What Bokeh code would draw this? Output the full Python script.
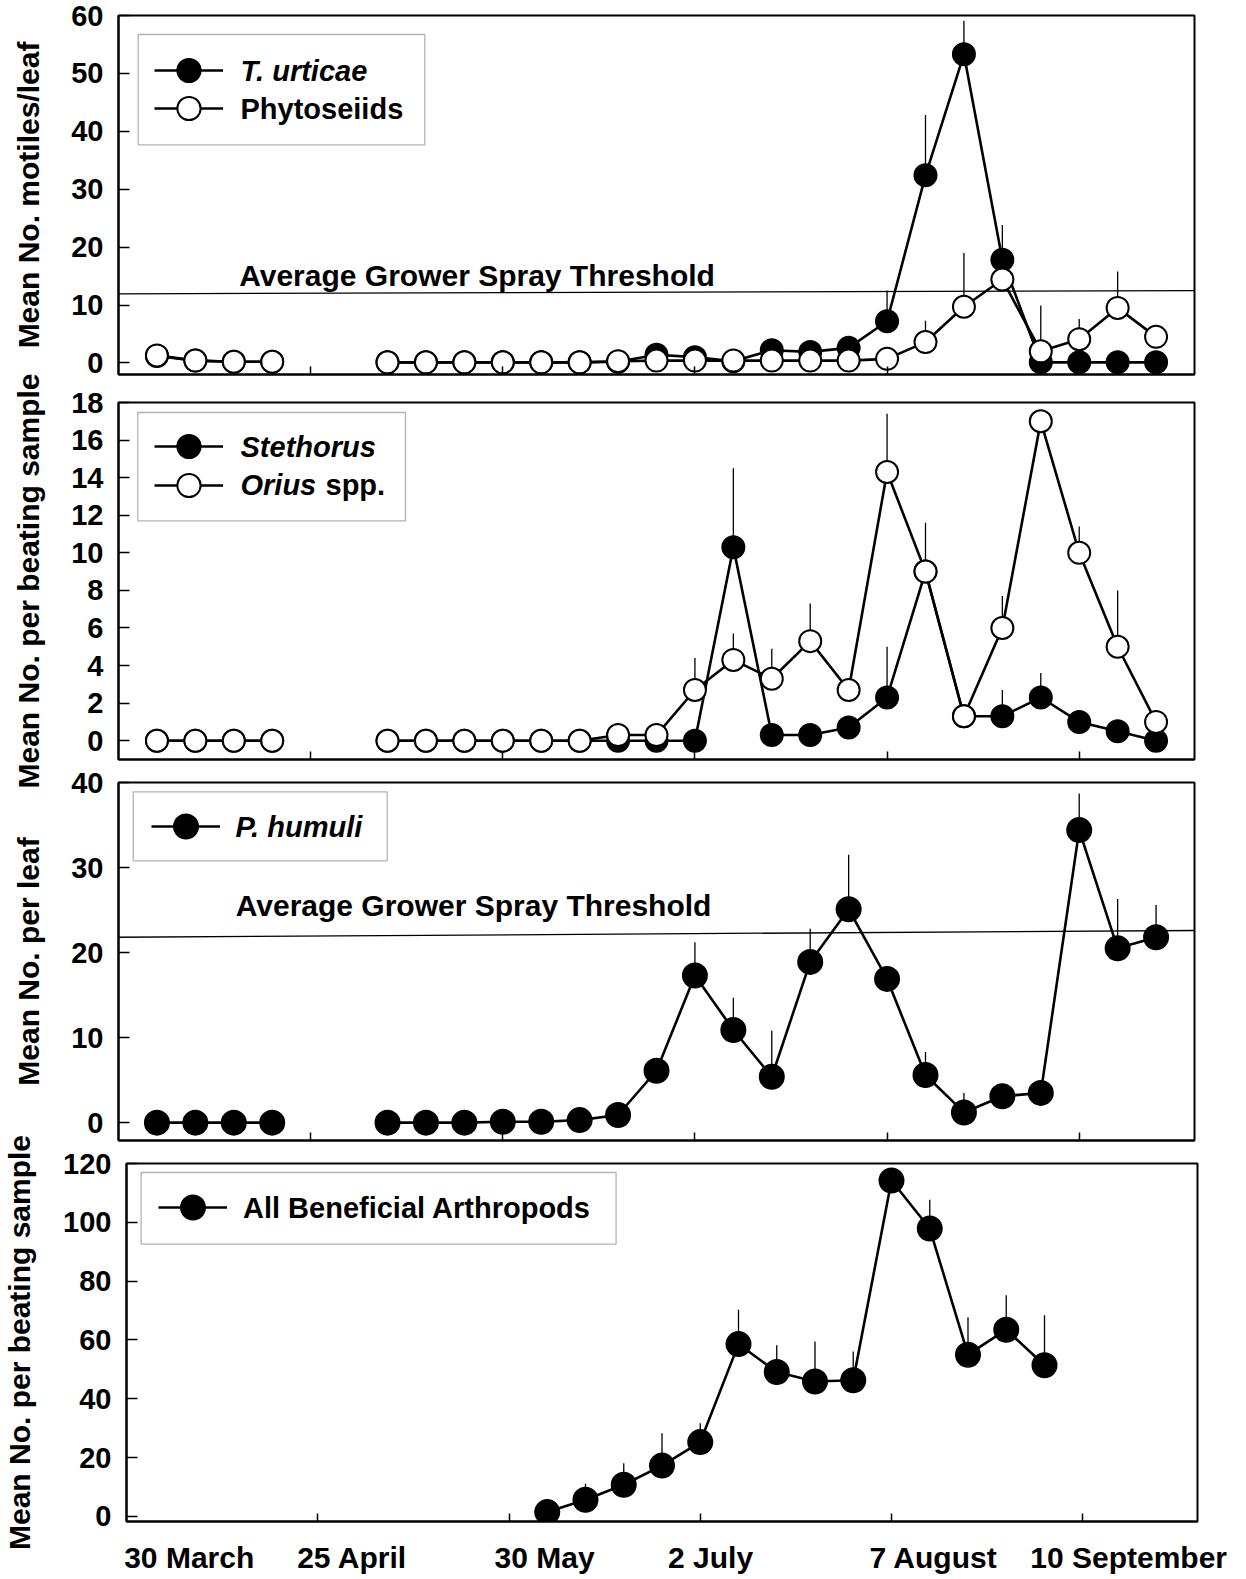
import math
from bokeh.plotting import figure
from bokeh.models import (Range1d, FixedTicker, LinearAxis, Legend, LegendItem,
                          Label, BoxAnnotation)
from bokeh.layouts import column
from bokeh.embed import file_html
from bokeh.resources import INLINE

NaN = float("nan")
FONT = "Liberation Sans"

# ---------------- data (x = sampling week index) ----------------
weeks = [0, 1, 2, 3, 6, 7, 8, 9, 10, 11, 12, 13, 14, 15, 16, 17, 18, 19, 20, 21, 22, 23, 24, 25, 26]

t_urticae = [1.2, 0.4, 0.2, 0.2, 0.1, 0.1, 0.1, 0.1, 0.1, 0.1, 0.2, 1.4, 1.0, 0.3, 2.2, 1.9, 2.6, 7.2, 32.4, 53.3, 17.8, 0.1, 0.1, 0.1, 0.1]
t_urticae_se = [NaN] * 17 + [5.3, 10.4, 5.8, 6.0, NaN, NaN, NaN, NaN]
phytoseiids = [1.3, 0.4, 0.2, 0.2, 0.1, 0.1, 0.1, 0.1, 0.1, 0.1, 0.3, 0.4, 0.4, 0.4, 0.4, 0.4, 0.4, 0.7, 3.6, 9.7, 14.4, 2.0, 4.1, 9.5, 4.5]
phytoseiids_se = [NaN] * 18 + [3.7, 9.3, NaN, 7.9, 3.5, 6.3, NaN]

stethorus = [0] * 10 + [0, 0, 0, 10.3, 0.3, 0.3, 0.7, 2.3, 9.0, 1.3, 1.3, 2.3, 1.0, 0.5, 0.0]
stethorus_se = [NaN] * 13 + [4.2, NaN, NaN, NaN, 2.7, NaN, NaN, 1.4, 1.3, NaN, NaN, NaN]
orius = [0] * 10 + [0.3, 0.3, 2.7, 4.3, 3.3, 5.3, 2.7, 14.3, 9.0, 1.3, 6.0, 17.0, 10.0, 5.0, 1.0]
orius_se = [NaN] * 12 + [1.7, 1.4, 1.6, 2.0, NaN, 3.1, 2.6, NaN, 1.7, NaN, 1.4, 3.0, NaN]

p_humuli = [0, 0, 0, 0, 0, 0, 0, 0.1, 0.1, 0.3, 0.9, 6.1, 17.3, 10.9, 5.4, 18.9, 25.1, 16.9, 5.6, 1.2, 3.1, 3.5, 34.4, 20.5, 21.8]
p_humuli_se = [NaN] * 12 + [3.9, 3.8, 5.4, 3.9, 6.4, NaN, 2.7, 2.3, NaN, NaN, 4.3, 5.8, 3.8]

weeks_b = [10, 11, 12, 13, 14, 15, 16, 17, 18, 19, 20, 21, 22, 23]
beneficial = [1.5, 5.7, 10.8, 17.3, 25.3, 58.6, 49.1, 45.9, 46.3, 114.2, 97.9, 55.0, 63.5, 51.4]
beneficial_se = [NaN, 5.4, 7.3, 11.0, 6.4, 11.7, 9.1, 13.6, 9.8, NaN, 9.8, 12.7, 11.7, 17.0]

# spray thresholds (value at left edge, value at right edge)
tu_threshold = (11.94, 12.5)
ph_threshold = (21.8, 22.6)
threshold_text = "Average Grower Spray Threshold"

x_tick_weeks = [4, 9, 14, 19, 24]
date_labels = ["30 March", "25 April", "30 May", "2 July", "7 August", "10 September"]
date_label_weeks = [0.64, 4.9, 9.93, 14.27, 20.1, 25.2]

XMIN, XMAX = -1, 27
LEFT_BORDER = 128


# ---------------- helpers ----------------
def runs(x, y):
    xs, ys = [[x[0]]], [[y[0]]]
    for a, b, v in zip(x, x[1:], y[1:]):
        if b - a > 1:
            xs.append([])
            ys.append([])
        xs[-1].append(b)
        ys[-1].append(v)
    return xs, ys


def make_fig(yr, yticks, ytitle, title_standoff, frame_w, frame_h, bt, br, bb, margin):
    p = figure(frame_width=frame_w, frame_height=frame_h,
               x_range=Range1d(XMIN, XMAX), y_range=Range1d(*yr),
               output_backend="svg", toolbar_location=None,
               min_border_left=LEFT_BORDER, min_border_top=bt,
               min_border_right=br, min_border_bottom=bb)
    p.margin = margin
    p.border_fill_color = None
    p.background_fill_color = "white"
    p.outline_line_color = "black"
    p.outline_line_width = 2
    p.outline_line_alpha = 1
    p.grid.visible = False

    xa = p.xaxis[0]
    xa.ticker = FixedTicker(ticks=x_tick_weeks)
    xa.major_label_overrides = {t: "" for t in x_tick_weeks}
    xa.major_tick_in = 8
    xa.major_tick_out = 0
    xa.minor_tick_in = 0
    xa.minor_tick_out = 0
    xa.major_tick_line_width = 1.5
    xa.axis_line_width = 2
    xa.major_label_text_font_size = "1px"
    xa.major_label_standoff = 0

    ya = p.yaxis[0]
    ya.ticker = FixedTicker(ticks=yticks)
    ya.major_tick_in = 11
    ya.major_tick_out = 0
    ya.minor_tick_in = 0
    ya.minor_tick_out = 0
    ya.major_tick_line_width = 1.5
    ya.axis_line_width = 2
    ya.major_label_text_font = FONT
    ya.major_label_text_font_style = "bold"
    ya.major_label_text_font_size = "29px"
    ya.major_label_text_color = "black"
    ya.major_label_standoff = 15
    ya.axis_label = ytitle
    ya.axis_label_text_font = FONT
    ya.axis_label_text_font_style = "bold"
    ya.axis_label_text_font_size = "30px"
    ya.axis_label_text_color = "black"
    ya.axis_label_standoff = title_standoff
    p._geom = (frame_w, frame_h, yr[0], yr[1])
    return p


def to_data(p, dx, dy):
    """pixel offset from the frame's top-left corner -> data coordinates"""
    fw, fh, y0, y1 = p._geom
    return XMIN + dx / fw * (XMAX - XMIN), y1 - dy / fh * (y1 - y0)


def series(p, x, y, se, filled, size=22):
    ex, ey0, ey1 = [], [], []
    for a, v, s in zip(x, y, se):
        if not math.isnan(s):
            ex.append(a)
            ey0.append(v)
            ey1.append(v + s)
    p.segment(x0=ex, y0=ey0, x1=ex, y1=ey1, line_color="black", line_width=1.3)
    xs, ys = runs(x, y)
    lr = p.multi_line(xs=xs, ys=ys, line_color="black", line_width=2.6)
    sr = p.scatter(x=x, y=y, marker="circle", size=size,
                   fill_color="black" if filled else "white",
                   line_color="black", line_width=2)
    return lr, sr


def legend_box(p, dx0, dy0, dx1, dy1):
    l, t = to_data(p, dx0, dy0)
    r, b = to_data(p, dx1, dy1)
    p.add_layout(BoxAnnotation(left=l, right=r, top=t, bottom=b,
                               fill_color=None, line_color="black", line_width=1.3))


def legend_row(p, rends, line_dx, row_dy, gh=58):
    fh = p._geom[1]
    leg = Legend(items=[LegendItem(label=" ", renderers=list(rends))],
                 location=(line_dx, fh - row_dy - gh / 2), orientation="vertical",
                 margin=0, padding=0, spacing=0,
                 glyph_width=69, glyph_height=gh, label_height=gh,
                 label_width=4, label_standoff=0,
                 label_text_font=FONT, label_text_font_size="10px",
                 border_line_color=None, background_fill_color=None,
                 background_fill_alpha=0)
    p.add_layout(leg)


def text(p, dx, dy, s, style="bold", size="29px"):
    x, y = to_data(p, dx, dy)
    p.add_layout(Label(x=x, y=y, text=s,
                       text_font=FONT, text_font_style=style, text_font_size=size,
                       text_color="black", text_align="left", text_baseline="middle"))


def data_text(p, x, y, s, size="30px"):
    p.add_layout(Label(x=x, y=y, text=s, text_font=FONT, text_font_style="bold",
                       text_font_size=size, text_color="black",
                       text_align="left", text_baseline="alphabetic"))


# ---------------- panel 1 ----------------
p1 = make_fig((-2, 60), [0, 10, 20, 30, 40, 50, 60], "Mean No. motiles/leaf", 23,
              1076, 359, 15, 12, 12, (0, 0, 0, 118 - LEFT_BORDER))
p1.segment(x0=[XMIN], y0=[tu_threshold[0]], x1=[XMAX], y1=[tu_threshold[1]],
           line_color="black", line_width=1.3)
r1a = series(p1, weeks, t_urticae, t_urticae_se, True)
r1b = series(p1, weeks, phytoseiids, phytoseiids_se, False)
legend_box(p1, 19.7, 19, 306.3, 129.4)
legend_row(p1, r1a, 36, 55.4)
legend_row(p1, r1b, 36, 93)
text(p1, 122, 55.4, "T. urticae", "bold italic")
text(p1, 122, 93, "Phytoseiids")
data_text(p1, 2.14, 15.1, threshold_text)

# ---------------- panel 2 ----------------
p2 = make_fig((-1, 18), list(range(0, 19, 2)), "Mean No. per beating sample", 23,
              1076, 357, 34, 12, 33, (-18, 0, 0, 118 - LEFT_BORDER))
r2a = series(p2, weeks, stethorus, stethorus_se, True)
r2b = series(p2, weeks, orius, orius_se, False)
legend_box(p2, 19.3, 10, 287, 118.3)
legend_row(p2, r2a, 36.3, 44.3)
legend_row(p2, r2b, 36.3, 82.6)
text(p2, 122, 44.3, "Stethorus", "bold italic")
text(p2, 122, 82.6, "Orius", "bold italic")
text(p2, 207, 82.6, "spp.")

# ---------------- panel 3 ----------------
p3 = make_fig((-2.1, 40), [0, 10, 20, 30, 40], "Mean No. per leaf", 23,
              1076, 358, 20, 12, 10, (-30, 0, 0, 118 - LEFT_BORDER))
p3.segment(x0=[XMIN], y0=[ph_threshold[0]], x1=[XMAX + 0.2], y1=[ph_threshold[1]],
           line_color="black", line_width=1.3)
r3 = series(p3, weeks, p_humuli, p_humuli_se, True, size=24)
legend_box(p3, 14.7, 9.3, 268.7, 78.3)
legend_row(p3, r3, 32.7, 44, gh=60)
text(p3, 117, 44, "P. humuli", "bold italic")
data_text(p3, 2.05, 25.5, threshold_text)

# ---------------- panel 4 ----------------
p4 = make_fig((-1.7, 120), [0, 20, 40, 60, 80, 100, 120], "Mean No. per beating sample", 24,
              1073, 358, 33, 29, 51, (-20, 0, 0, 126 - LEFT_BORDER))
r4 = series(p4, weeks_b, beneficial, beneficial_se, True, size=24)
legend_box(p4, 14.7, 9, 490.5, 80.6)
legend_row(p4, r4, 32.3, 44, gh=60)
text(p4, 116.7, 44, "All Beneficial Arthropods")

date_axis = LinearAxis(ticker=FixedTicker(ticks=date_label_weeks),
                       major_label_overrides={w: s for w, s in zip(date_label_weeks, date_labels)},
                       major_tick_in=0, major_tick_out=0, minor_tick_in=0, minor_tick_out=0,
                       axis_line_color=None, major_tick_line_color=None,
                       major_label_text_font=FONT, major_label_text_font_style="bold",
                       major_label_text_font_size="30px", major_label_text_color="black",
                       major_label_standoff=19)
p4.add_layout(date_axis, "below")

layout = column(p1, p2, p3, p4, spacing=0)
open("out.html", "w").write(file_html(layout, INLINE))
